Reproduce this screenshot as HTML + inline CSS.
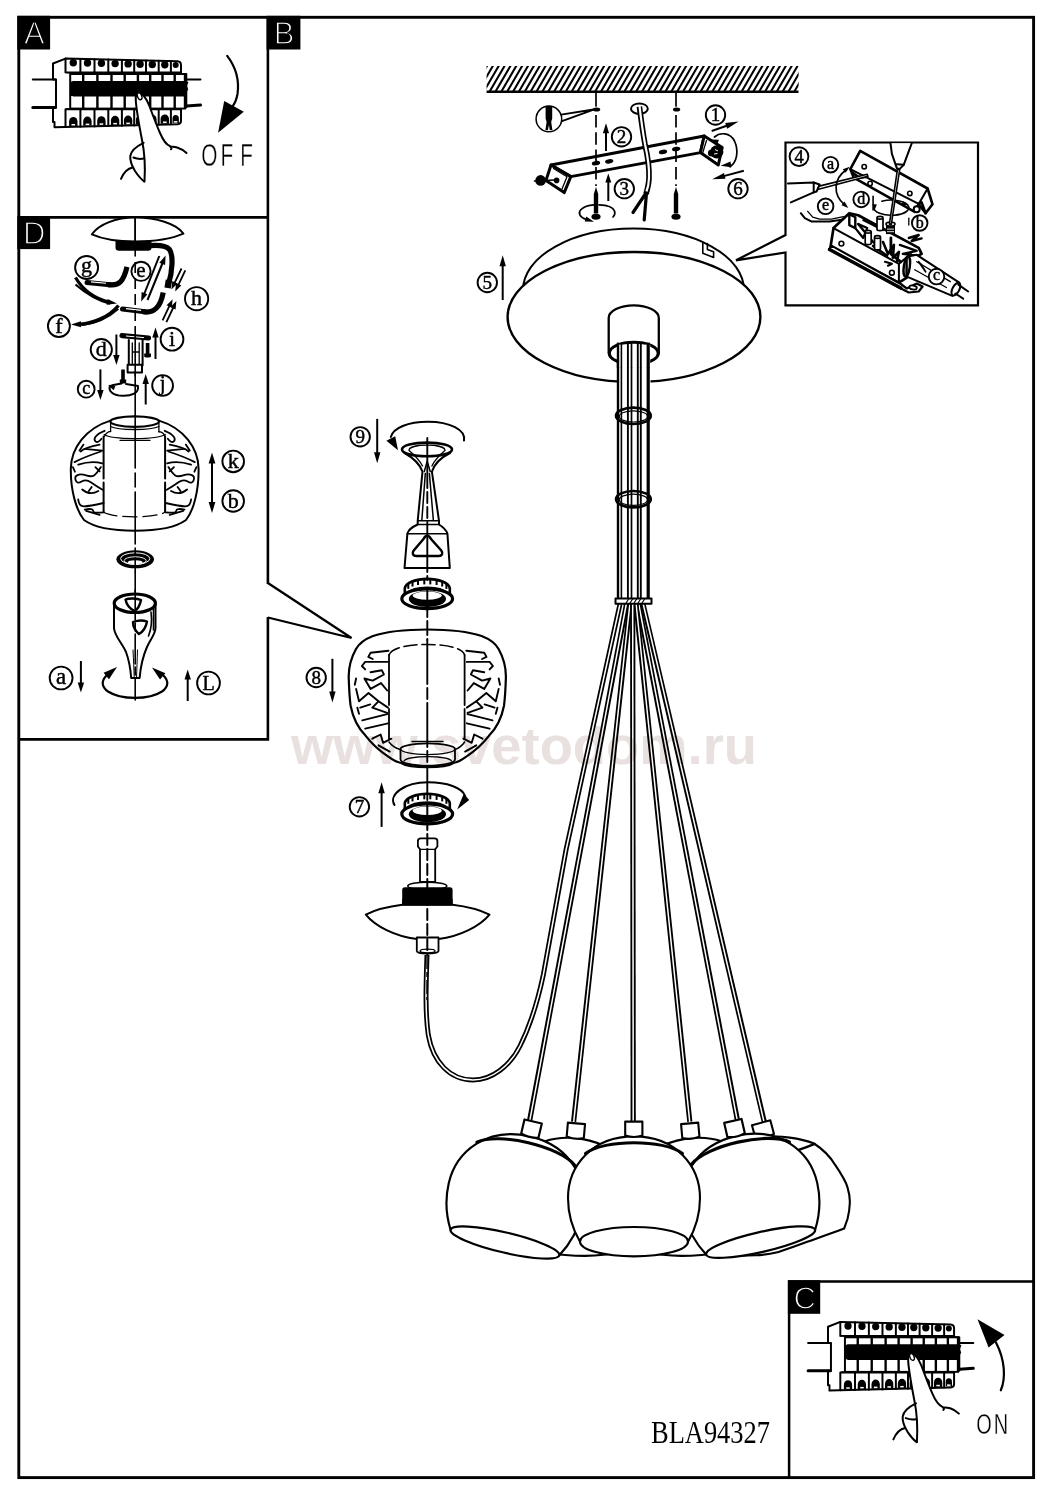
<!DOCTYPE html>
<html lang="ru"><head><meta charset="utf-8"><title>BLA94327</title>
<style>
html,body{margin:0;padding:0;background:#fff}
svg{display:block}

.s{fill:none;stroke:#000;stroke-width:2;stroke-linecap:round;stroke-linejoin:round}
.t{fill:none;stroke:#000;stroke-width:1.3;stroke-linecap:round;stroke-linejoin:round}
.w{fill:#fff;stroke:#000;stroke-width:2;stroke-linecap:round;stroke-linejoin:round}
.wt{fill:#fff;stroke:#000;stroke-width:1.3;stroke-linecap:round;stroke-linejoin:round}
.k{fill:#000;stroke:none}
.c{fill:none;stroke:#000;stroke-width:1.5}
.cw{fill:#fff;stroke:#000;stroke-width:1.5}
.l{font-family:"Liberation Serif",serif;text-anchor:middle;fill:#000}
.dash{fill:none;stroke:#000;stroke-width:1.6;stroke-dasharray:9 4}
</style></head><body>
<svg font-family="Liberation Serif, serif" width="1060" height="1500" viewBox="0 0 1060 1500">
<rect x="0" y="0" width="1060" height="1500" fill="#fff"/>
<!-- 01_frame.svg -->
<g fill="none" stroke="#000" stroke-linejoin="miter">
<rect x="18.8" y="17.3" width="1014.8" height="1460.3" stroke-width="2.9"/>
<path d="M18.7,217.4H267.9M267.9,17.2V584M267.9,617V739.4H18.7" stroke-width="2.6"/>
<path d="M1033.6,1281.5H789.1V1477.6" stroke-width="2.5"/>
<path d="M267.9,583L351.5,638L267.9,617.5" stroke-width="2.3"/>
<path d="M785.5,235V142.5H978V305.4H785.5V252.5L736,260.3Z" stroke-width="2.2"/>
</g>
<rect x="17.3" y="15.8" width="32.8" height="33.7" class="k"/>
<rect x="266.6" y="15.8" width="33.8" height="33.7" class="k"/>
<rect x="17.3" y="216.1" width="32.8" height="33" class="k"/>
<rect x="787.9" y="1280.2" width="32.3" height="33.6" class="k"/>
<g style="font-family:'Liberation Sans',sans-serif" font-size="31" fill="#fff" stroke="#000" stroke-width="1.3" text-anchor="middle">
<text x="34.3" y="43.8">A</text>
<text x="284" y="43.8">B</text>
<text x="34.3" y="244.2">D</text>
<text x="804.6" y="1309">C</text>
</g>
<!-- 10_breaker.svg -->
<defs><g id="brk">
<path class="w" d="M53,63.5L65.5,58.6L177.5,61.2Q181,61.4 181,65V74H186.3V107.5H181V121Q181,124 177.5,124.2L54.5,127.3V122H53V107.5H56V79.6H53Z"/>
<path class="s" d="M32.8,79.6H55.5M186.5,79.6H200.5"/>
<path d="M32.8,107.5H55.5M186.5,106L200.5,105" fill="none" stroke="#000" stroke-width="3" stroke-linecap="round"/>
<path class="s" d="M65.5,58.6V72.6H181"/>
<path class="s" d="M80.4,59.0V72.6"/>
<path class="s" d="M94.5,59.3V72.6"/>
<path class="s" d="M108.3,59.6V72.6"/>
<path class="s" d="M121.9,59.9V72.6"/>
<path class="s" d="M134.2,60.2V72.6"/>
<path class="s" d="M146.0,60.5V72.6"/>
<path class="s" d="M158.7,60.8V72.6"/>
<path class="s" d="M170.9,61.1V72.6"/>
<circle class="k" cx="73.3" cy="62.7" r="3.7"/>
<circle class="k" cx="87.5" cy="63.0" r="3.7"/>
<circle class="k" cx="101.4" cy="63.3" r="3.7"/>
<circle class="k" cx="115.1" cy="63.6" r="3.7"/>
<circle class="k" cx="128.1" cy="63.9" r="3.7"/>
<circle class="k" cx="140.1" cy="64.2" r="3.7"/>
<circle class="k" cx="152.3" cy="64.5" r="3.7"/>
<circle class="k" cx="164.8" cy="64.8" r="3.7"/>
<circle class="k" cx="175.7" cy="65.1" r="3.0"/>
<rect x="66.5" y="73" width="119.5" height="36.5" class="k"/>
<rect x="71.2" y="75" width="10.8" height="8" fill="#fff"/>
<rect x="71.2" y="96" width="10.8" height="11.6" fill="#fff"/>
<rect x="84.4" y="75" width="11.8" height="8" fill="#fff"/>
<rect x="84.4" y="96" width="11.8" height="11.6" fill="#fff"/>
<rect x="98.6" y="75" width="11.7" height="8" fill="#fff"/>
<rect x="98.6" y="96" width="11.7" height="11.6" fill="#fff"/>
<rect x="112.7" y="75" width="10.8" height="8" fill="#fff"/>
<rect x="112.7" y="96" width="10.8" height="11.6" fill="#fff"/>
<rect x="125.9" y="75" width="10.8" height="8" fill="#fff"/>
<rect x="125.9" y="96" width="10.8" height="11.6" fill="#fff"/>
<rect x="139.1" y="75" width="9.9" height="8" fill="#fff"/>
<rect x="139.1" y="96" width="9.9" height="11.6" fill="#fff"/>
<rect x="151.4" y="75" width="9.9" height="8" fill="#fff"/>
<rect x="151.4" y="96" width="9.9" height="11.6" fill="#fff"/>
<rect x="163.7" y="75" width="9.8" height="8" fill="#fff"/>
<rect x="163.7" y="96" width="9.8" height="11.6" fill="#fff"/>
<rect x="175.9" y="75" width="7.9" height="8" fill="#fff"/>
<rect x="175.9" y="96" width="7.9" height="11.6" fill="#fff"/>
<rect x="65" y="73.6" width="4.2" height="34.4" fill="#fff"/>
<path class="k" d="M70.5,82L73,81h113l2.5,1.2l-1.8,3.5l1.5,3.5l-2,3.8l0.8,3.6H73l-2.8,-3.6l1.8,-3.8l-2,-3.5z"/>
<path class="s" d="M65.5,109.3H181M65.5,109.3V127"/>
<path class="s" d="M80.4,109.3V126.8"/>
<path class="s" d="M94.5,109.3V126.5"/>
<path class="s" d="M108.3,109.3V126.1"/>
<path class="s" d="M121.9,109.3V125.8"/>
<path class="s" d="M134.2,109.3V125.4"/>
<path class="s" d="M146.0,109.3V125.0"/>
<path class="s" d="M158.7,109.3V124.7"/>
<path class="s" d="M170.9,109.3V124.3"/>
<path class="k" d="M69.1,126.2v-4.6a4.2,4.7 0 0 1 8.4,0v4.6z"/>
<rect x="71.5" y="124.0" width="3.6" height="1.5" fill="#fff"/>
<path class="k" d="M83.2,125.8v-4.6a4.2,4.7 0 0 1 8.4,0v4.6z"/>
<rect x="85.7" y="123.6" width="3.6" height="1.5" fill="#fff"/>
<path class="k" d="M97.2,125.5v-4.6a4.2,4.7 0 0 1 8.4,0v4.6z"/>
<rect x="99.6" y="123.3" width="3.6" height="1.5" fill="#fff"/>
<path class="k" d="M110.9,125.1v-4.6a4.2,4.7 0 0 1 8.4,0v4.6z"/>
<rect x="113.3" y="122.9" width="3.6" height="1.5" fill="#fff"/>
<path class="k" d="M123.9,124.8v-4.6a4.2,4.7 0 0 1 8.4,0v4.6z"/>
<rect x="126.3" y="122.6" width="3.6" height="1.5" fill="#fff"/>
<path class="k" d="M135.9,124.4v-4.6a4.2,4.7 0 0 1 8.4,0v4.6z"/>
<rect x="138.3" y="122.2" width="3.6" height="1.5" fill="#fff"/>
<path class="k" d="M148.2,124.0v-4.6a4.2,4.7 0 0 1 8.4,0v4.6z"/>
<rect x="150.5" y="121.8" width="3.6" height="1.5" fill="#fff"/>
<path class="k" d="M160.6,123.7v-4.6a4.2,4.7 0 0 1 8.4,0v4.6z"/>
<rect x="163.0" y="121.5" width="3.6" height="1.5" fill="#fff"/>
<path class="k" d="M172.5,123.3v-4.6a3.2,3.7 0 0 1 6.4,0v4.6z"/>
<rect x="173.8" y="121.1" width="3.6" height="1.5" fill="#fff"/>
</g><g id="hnd">
<path class="w" d="M144.5,181.5C145.5,165 144.5,152 142,140C139.5,127 136.5,110 135.8,101C135.3,94.5 137,92.3 139.5,92.8C143,93.8 146,98 149,105C152,113 156.5,125 160,133C163,140 166,144.5 170,146.2C171.5,146.8 172,148.5 171,149.3C172,147 176,146.8 179,147.6C182.5,148.5 185,150.3 186.5,152.8L186,152L179,147.6L170,146.2L144.5,146Z" style="stroke:none"/>
<path class="w" d="M143.6,142.8C137,146 131,151 130.3,156C129.8,161 132,166 135,171C138,175.5 141.5,179.5 144.2,181.5"/>
<path class="s" d="M144.5,181.5C145.5,165 144.5,152 142,140C139.5,127 136.5,110 135.8,101C135.3,94.5 137,92.3 139.5,92.8C143,93.8 146,98 149,105C152,113 156.5,125 160,133C163,140 166,144.5 170,146.2C171.5,146.8 172,148.5 171,149.3M170.5,147C174,146.3 181,147.5 186.5,153"/>
<path class="s" d="M133.4,157.5C137,159 140.5,159.2 143.8,158.6M132.6,167.5C127.5,168.5 123.5,173 121,178.8"/>
<ellipse cx="139.6" cy="96.3" rx="2.1" ry="3.6" transform="rotate(-22 139.6 96.3)" class="w" style="stroke-width:1.4"/>
</g></defs>
<use href="#brk"/>
<use href="#hnd"/>
<use href="#brk" transform="translate(775,1263.3) translate(53,0) scale(0.985,1) translate(-53,0)"/>
<use href="#hnd" transform="translate(772.4,1260.6)"/>
<path d="M227.2,55.8C235,66 239.5,80 237.5,94C236.5,100 234.5,104 232,107" fill="none" stroke="#000" stroke-width="2.2" stroke-linecap="round"/>
<path class="k" d="M224.2,101.1L243.8,111.7L218.1,132.8Z"/>
<path d="M1000.8,1390.3C1006,1378 1005,1360 996,1342.5" fill="none" stroke="#000" stroke-width="2.2" stroke-linecap="round"/>
<path class="k" d="M977.5,1319.2L1004.5,1335L988.6,1347.4Z"/>
<g style="font-family:'Liberation Sans',sans-serif" fill="#000" stroke="#fff" stroke-width="0.4">
<text transform="translate(201.2,166) scale(0.68,1)" font-size="30.6" x="0 28.5 57.3">OFF</text>
<text transform="translate(976.2,1433.8) scale(0.68,1)" font-size="29.4" x="0 26">ON</text>
</g>
<!-- 20_boxD.svg -->
<path class="w" d="M91.9,234.3C99,224 116,217.6 135.3,217.6C156,217.6 176,223.5 183.4,233.6C172,238.6 155,241.4 135.3,241.4C118,241.4 103,239.3 91.9,234.3Z"/>
<path d="M135.2,218V242" class="t" style="stroke-width:1.6"/>
<path class="k" d="M115.5,241H151.5V247.5Q151.5,250.8 148,250.8H119Q115.5,250.8 115.5,247.5Z"/>
<path d="M150,245.6C158,245 166,245.5 169.5,249.5C173.5,255 172.5,272 168.3,285" fill="none" stroke="#000" stroke-width="5.2" stroke-linecap="butt"/>
<path d="M168.9,280L167.6,288" fill="none" stroke="#000" stroke-width="6.4"/>
<path d="M163.2,292.5C162,299 160,304.5 156.5,308C153,311.5 148,312.6 143,311.8" fill="none" stroke="#000" stroke-width="5.2"/>
<path d="M145,311.8L122.5,309" fill="none" stroke="#000" stroke-width="5" stroke-linecap="round"/>
<path d="M141,310.4L126,308.6" fill="none" stroke="#fff" stroke-width="1.1"/>
<path d="M127,266.8C125.5,273 123.5,278.5 120.5,281.8C117.5,285 113,285.3 108,284.6" fill="none" stroke="#000" stroke-width="5.2"/>
<path d="M110,284.7L87,282.5" fill="none" stroke="#000" stroke-width="5" stroke-linecap="round"/>
<path d="M106,283.3L91,281.9" fill="none" stroke="#fff" stroke-width="1.1"/>
<path d="M147.5,300.0L163.0,262.0" fill="none" stroke="#000" stroke-width="2.0"/><path class="k" d="M165.6,255.5L165.1,265.0L159.3,262.7Z"/>
<path d="M159.3,256.0L143.8,295.0" fill="none" stroke="#000" stroke-width="2.0"/><path class="k" d="M141.2,301.5L141.6,292.0L147.4,294.3Z"/>
<path d="M185.3,270.4L177.8,286.1" fill="none" stroke="#000" stroke-width="1.8"/><path class="k" d="M175.2,291.5L176.1,283.0L181.3,285.5Z"/>
<path d="M181.5,268.5L174.0,284.2" fill="none" stroke="#000" stroke-width="1.8"/><path class="k" d="M171.4,289.6L172.3,281.1L177.5,283.6Z"/>
<path d="M162.6,320.4L170.0,304.7" fill="none" stroke="#000" stroke-width="1.8"/><path class="k" d="M172.6,299.3L171.8,307.8L166.6,305.3Z"/>
<path d="M166.4,322.2L173.8,306.5" fill="none" stroke="#000" stroke-width="1.8"/><path class="k" d="M176.4,301.1L175.6,309.6L170.4,307.1Z"/>
<path d="M75.5,277.5C84,292 98,299.5 110,302.3" fill="none" stroke="#000" stroke-width="3.2"/>
<path d="M75.5,284.5C87,294.5 99,301 110,303.8" fill="none" stroke="#000" stroke-width="2.2"/>
<path class="k" d="M117.0,303.6L106.6,304.8L107.7,298.9Z"/>
<path d="M118.5,305.5C109,317 93,323.5 80,324.3" fill="none" stroke="#000" stroke-width="3.4"/>
<path d="M118.5,309C108,318.5 95,324 82,325.3" fill="none" stroke="#000" stroke-width="1.6"/>
<path class="k" d="M71.0,324.6L80.9,321.3L81.1,327.2Z"/>
<circle cx="86.6" cy="267.5" r="11.5" fill="#fff" stroke="#000" stroke-width="1.9"/><text class="l" stroke="#000" stroke-width="0.45" x="86.6" y="271.5" font-size="22.0">g</text>
<circle cx="141.0" cy="271.3" r="9.6" fill="#fff" stroke="#000" stroke-width="1.9"/><text class="l" stroke="#000" stroke-width="0.45" x="141.0" y="276.5" font-size="21.0">e</text>
<circle cx="196.6" cy="298.7" r="11.6" fill="#fff" stroke="#000" stroke-width="1.9"/><text class="l" stroke="#000" stroke-width="0.45" x="196.6" y="305.2" font-size="22.0">h</text>
<circle cx="58.9" cy="326.0" r="11.0" fill="#fff" stroke="#000" stroke-width="1.9"/><text class="l" stroke="#000" stroke-width="0.45" x="58.9" y="332.8" font-size="22.0">f</text>
<circle cx="172.0" cy="339.2" r="11.4" fill="#fff" stroke="#000" stroke-width="1.9"/><text class="l" stroke="#000" stroke-width="0.45" x="172.0" y="346.0" font-size="22.0">i</text>
<circle cx="101.3" cy="349.6" r="10.6" fill="#fff" stroke="#000" stroke-width="1.9"/><text class="l" stroke="#000" stroke-width="0.45" x="101.3" y="355.9" font-size="22.0">d</text>
<circle cx="86.2" cy="389.2" r="8.4" fill="#fff" stroke="#000" stroke-width="1.9"/><text class="l" stroke="#000" stroke-width="0.45" x="86.2" y="393.5" font-size="18.0">c</text>
<circle cx="162.6" cy="385.5" r="10.4" fill="#fff" stroke="#000" stroke-width="1.9"/><text class="l" stroke="#000" stroke-width="0.45" x="162.6" y="389.7" font-size="21.0">j</text>
<path d="M122,335.6L148.5,338" fill="none" stroke="#000" stroke-width="5.2" stroke-linecap="round"/>
<path d="M126,336L144,337.6" fill="none" stroke="#fff" stroke-width="1"/>
<path class="w" d="M128.8,340V365.5H142.6V340"/>
<path class="t" d="M132.3,343V364M139.2,343V364M132.3,352H139.2"/>
<rect class="w" x="127.6" y="364.8" width="14.4" height="7.6"/>
<path d="M135.2,338V376" class="t" style="stroke-width:1.6"/>
<path class="k" d="M145.8,343h3.6v10.5h1.6v3.2q-3.4,1.8 -6.8,0v-3.2h1.6z"/>
<path class="k" d="M121.2,369.5h3.6v10h1.4v3.2q-3.2,1.8 -6.4,0v-3.2h1.4z"/>
<path d="M116.4,334.5L116.4,357.0" fill="none" stroke="#000" stroke-width="2.0"/><path class="k" d="M116.4,365.0L113.2,355.0L119.6,355.0Z"/>
<path d="M155.5,359.0L155.5,335.5" fill="none" stroke="#000" stroke-width="2.0"/><path class="k" d="M155.5,327.5L158.7,337.5L152.3,337.5Z"/>
<path d="M100.4,369.4L100.4,392.0" fill="none" stroke="#000" stroke-width="2.0"/><path class="k" d="M100.4,400.0L97.2,390.0L103.6,390.0Z"/>
<path d="M145.7,404.5L145.7,382.0" fill="none" stroke="#000" stroke-width="2.0"/><path class="k" d="M145.7,374.0L148.9,384.0L142.5,384.0Z"/>
<path class="s" d="M110,385.8C108,391 113,395.6 123,395.8C132,396 138.5,392.5 138,387.3M112,385.2L121.5,383.5M126,384L138,386"/>
<path class="k" d="M108.0,385.6L115.4,385.7L113.8,390.2Z"/>
<path class="w" d="M110.5,420.6C86,428 71,448 70.8,469C70.6,490 76,510 84,520C95,528 115,530.7 135,530.7C155,530.7 175,528 186,520C194,510 198.8,490 198.6,469C198.4,448 183.5,428 159,420.6"/>
<ellipse class="w" cx="134.7" cy="421.6" rx="24.3" ry="5.2" style="stroke-width:2.2"/>
<path class="t" d="M110.6,423V431.5M158.9,423V432"/>
<path class="t" d="M110.6,426.5C118,430.5 151,430.5 158.9,426.5"/>
<path class="t" d="M104.5,436.5C106,432.5 108.5,431.5 110.6,431.3M158.9,431.6C162,432 164.3,433.5 165,436.5"/>
<path class="t" d="M104.2,434.5C112,439.8 156,440 165.2,434.5"/>
<path class="s" d="M103.6,436.6V512M165.1,436.6V512" style="stroke-dasharray:42 4"/>
<path class="t" d="M103.6,512C112,518.5 157,518.5 165.1,512" style="stroke-dasharray:14 6"/>
<path class="t" d="M120,440.3H150"/>
<path class="t" d="M104.6,430.8Q98.0,433.4 95.7,436.5Q93.4,439.6 95.7,441.5Q98.0,443.3 101.5,438.7" style="stroke-width:1.8"/>
<path class="t" d="M104.6,430.8Q98.0,433.4 95.7,436.5Q93.4,439.6 95.7,441.5Q98.0,443.3 101.5,438.7" transform="translate(269.3,0) scale(-1,1)" style="stroke-width:1.8"/>
<path class="t" d="M99.6,444.6Q84.8,447.5 80.6,451.5" style="stroke-width:1.8"/>
<path class="t" d="M99.6,444.6Q84.8,447.5 80.6,451.5" transform="translate(269.3,0) scale(-1,1)" style="stroke-width:1.8"/>
<path class="t" d="M84.8,448.9L102.2,450.7" style="stroke-width:1.8"/>
<path class="t" d="M84.8,448.9L102.2,450.7" transform="translate(269.3,0) scale(-1,1)" style="stroke-width:1.8"/>
<path class="t" d="M74.5,462.1Q84.8,456.8 100.9,451.5" style="stroke-width:1.8"/>
<path class="t" d="M74.5,462.1Q84.8,456.8 100.9,451.5" transform="translate(269.3,0) scale(-1,1)" style="stroke-width:1.8"/>
<path class="t" d="M78.2,464.7Q91.4,460.5 102.2,463.4" style="stroke-width:1.8"/>
<path class="t" d="M78.2,464.7Q91.4,460.5 102.2,463.4" transform="translate(269.3,0) scale(-1,1)" style="stroke-width:1.8"/>
<path class="t" d="M100.9,467.1Q96.7,473.7 94.1,475.4Q91.4,477.1 86.1,475.4Q80.8,473.7 77.5,475.1Q74.2,476.6 75.7,480.4Q77.2,484.2 81.6,481.6Q86.1,479.0 90.8,482.3Q95.4,485.6 102.5,489.8" style="stroke-width:1.8"/>
<path class="t" d="M100.9,467.1Q96.7,473.7 94.1,475.4Q91.4,477.1 86.1,475.4Q80.8,473.7 77.5,475.1Q74.2,476.6 75.7,480.4Q77.2,484.2 81.6,481.6Q86.1,479.0 90.8,482.3Q95.4,485.6 102.5,489.8" transform="translate(269.3,0) scale(-1,1)" style="stroke-width:1.8"/>
<path class="t" d="M95.4,467.1L99.6,471.3" style="stroke-width:1.8"/>
<path class="t" d="M95.4,467.1L99.6,471.3" transform="translate(269.3,0) scale(-1,1)" style="stroke-width:1.8"/>
<path class="t" d="M82.2,489.5Q90.1,496.1 98.3,490.9" style="stroke-width:1.8"/>
<path class="t" d="M82.2,489.5Q90.1,496.1 98.3,490.9" transform="translate(269.3,0) scale(-1,1)" style="stroke-width:1.8"/>
<path class="t" d="M88.8,491.1L91.7,486.9" style="stroke-width:1.8"/>
<path class="t" d="M88.8,491.1L91.7,486.9" transform="translate(269.3,0) scale(-1,1)" style="stroke-width:1.8"/>
<path class="t" d="M78.2,499.4Q78.9,505.4 82.5,506.2Q86.1,507.0 103.6,503.0" style="stroke-width:1.8"/>
<path class="t" d="M78.2,499.4Q78.9,505.4 82.5,506.2Q86.1,507.0 103.6,503.0" transform="translate(269.3,0) scale(-1,1)" style="stroke-width:1.8"/>
<path class="t" d="M84.8,509.6Q92.7,508.0 93.1,510.8Q93.5,513.6 103.6,512.3" style="stroke-width:1.8"/>
<path class="t" d="M84.8,509.6Q92.7,508.0 93.1,510.8Q93.5,513.6 103.6,512.3" transform="translate(269.3,0) scale(-1,1)" style="stroke-width:1.8"/>
<path class="t" d="M86.1,510.9L99.6,514.9" style="stroke-width:1.8"/>
<path class="t" d="M86.1,510.9L99.6,514.9" transform="translate(269.3,0) scale(-1,1)" style="stroke-width:1.8"/>
<path class="t" d="M83.5,444.6L79.5,450.6" style="stroke-width:1.8"/>
<path class="t" d="M83.5,444.6L79.5,450.6" transform="translate(269.3,0) scale(-1,1)" style="stroke-width:1.8"/>
<path class="t" d="M72.9,467.1L74.9,471.7" style="stroke-width:1.8"/>
<path class="t" d="M72.9,467.1L74.9,471.7" transform="translate(269.3,0) scale(-1,1)" style="stroke-width:1.8"/>
<path d="M212.0,480.0L212.0,461.5" fill="none" stroke="#000" stroke-width="2.0"/><path class="k" d="M212.0,452.5L215.4,463.5L208.6,463.5Z"/>
<path d="M212.0,480.0L212.0,504.0" fill="none" stroke="#000" stroke-width="2.0"/><path class="k" d="M212.0,513.0L208.6,502.0L215.4,502.0Z"/>
<circle cx="233.2" cy="461.4" r="10.8" fill="#fff" stroke="#000" stroke-width="1.9"/><text class="l" stroke="#000" stroke-width="0.45" x="233.2" y="468.2" font-size="22.0">k</text>
<circle cx="233.2" cy="501.0" r="10.8" fill="#fff" stroke="#000" stroke-width="1.9"/><text class="l" stroke="#000" stroke-width="0.45" x="233.2" y="507.8" font-size="22.0">b</text>
<ellipse cx="135.2" cy="559.3" rx="18.8" ry="9" class="k"/>
<ellipse cx="135.2" cy="558.6" rx="14.6" ry="5.8" fill="none" stroke="#fff" stroke-width="1"/>
<ellipse cx="135.2" cy="560.6" rx="11" ry="3.8" fill="none" stroke="#fff" stroke-width="0.9"/>
<ellipse cx="135.2" cy="562.2" rx="7.5" ry="2" fill="#fff"/>
<path d="M135.2,548V572" class="t" style="stroke-width:1.6;stroke-dasharray:7 3"/>
<path class="w" d="M114,603V628C114.5,636 122,643 126,652C129,660 130.5,669 131.2,678L139.6,678C140.5,668 143,656 147,647C150,640 155.5,634 155.5,628V603"/>
<ellipse cx="134.8" cy="603.2" rx="20.6" ry="9.2" fill="#fff" stroke="#000" stroke-width="3.2"/>
<path class="s" d="M125.5,599.5C129,598 137,598 141,600C140,605 137.5,609.5 134.5,611C130.5,609 126.5,604.5 125.5,599.5Z" style="stroke-width:2.4"/>
<path class="s" d="M133,622C137,620.5 143,620 147,621.5C146,627 142.5,632 139,634C135.5,631 133,626 133,622Z" style="stroke-width:2.4"/>
<path class="s" d="M153.5,608V630M151,612C152,620 151,630 148.5,636" style="stroke-width:1.6"/>
<path class="t" d="M133,650C133.5,660 134,670 134.2,678M137.5,650C137.2,660 136.8,670 136.5,678" style="stroke-width:1"/>
<path d="M135.2,590V700" class="t" style="stroke-width:1.6;stroke-dasharray:30 3 8 3"/>
<path class="s" d="M106.5,675.5C101,681 101.5,687 108,691.5C121,700 149,700 162,691.5C168.5,687 169,681 163.5,675.5" style="stroke-width:2.2"/>
<path class="k" d="M117.0,667.0L109.0,679.2L103.6,672.8Z"/>
<path class="k" d="M152.0,667.4L165.4,673.2L160.0,679.6Z"/>
<circle cx="61.1" cy="678.0" r="11.4" fill="#fff" stroke="#000" stroke-width="1.9"/><text class="l" stroke="#000" stroke-width="0.45" x="61.1" y="683.8" font-size="23.0">a</text>
<path d="M80.9,661.0L80.9,684.5" fill="none" stroke="#000" stroke-width="2.0"/><path class="k" d="M80.9,692.5L77.7,682.5L84.1,682.5Z"/>
<circle cx="208.5" cy="683.0" r="11.4" fill="#fff" stroke="#000" stroke-width="1.9"/><text class="l" stroke="#000" stroke-width="0.45" x="208.5" y="689.6" font-size="20.0">L</text>
<path d="M187.7,701.0L187.7,677.6" fill="none" stroke="#000" stroke-width="2.0"/><path class="k" d="M187.7,669.6L190.9,679.6L184.5,679.6Z"/>
<path d="M135.2,218V256" class="t" style="stroke-width:1.6"/>
<path d="M135.2,262V330" class="dash" style="stroke-dasharray:11 5"/>
<path d="M135.2,330V338M135.2,372V416" class="t" style="stroke-width:1.6"/>
<path d="M135.2,416V548" class="t" style="stroke-width:1.6;stroke-dasharray:52 5 14 5"/>
<path d="M135.2,572V592" class="t" style="stroke-width:1.6"/>
<!-- 30_ceiling.svg -->
<clipPath id="hc"><rect x="486.6" y="66" width="312" height="26"/></clipPath>
<g clip-path="url(#hc)" stroke="#000" stroke-width="2.05" fill="none">
<path d="M471.22,93L487.52,65"/>
<path d="M477.08,93L493.38,65"/>
<path d="M482.94,93L499.24,65"/>
<path d="M488.80,93L505.10,65"/>
<path d="M494.66,93L510.96,65"/>
<path d="M500.52,93L516.82,65"/>
<path d="M506.38,93L522.68,65"/>
<path d="M512.24,93L528.54,65"/>
<path d="M518.10,93L534.40,65"/>
<path d="M523.96,93L540.26,65"/>
<path d="M529.82,93L546.12,65"/>
<path d="M535.68,93L551.98,65"/>
<path d="M541.54,93L557.84,65"/>
<path d="M547.40,93L563.70,65"/>
<path d="M553.26,93L569.56,65"/>
<path d="M559.12,93L575.42,65"/>
<path d="M564.98,93L581.28,65"/>
<path d="M570.84,93L587.14,65"/>
<path d="M576.70,93L593.00,65"/>
<path d="M582.56,93L598.86,65"/>
<path d="M588.42,93L604.72,65"/>
<path d="M594.28,93L610.58,65"/>
<path d="M600.14,93L616.44,65"/>
<path d="M606.00,93L622.30,65"/>
<path d="M611.86,93L628.16,65"/>
<path d="M617.72,93L634.02,65"/>
<path d="M623.58,93L639.88,65"/>
<path d="M629.44,93L645.74,65"/>
<path d="M635.30,93L651.60,65"/>
<path d="M641.16,93L657.46,65"/>
<path d="M647.02,93L663.32,65"/>
<path d="M652.88,93L669.18,65"/>
<path d="M658.74,93L675.04,65"/>
<path d="M664.60,93L680.90,65"/>
<path d="M670.46,93L686.76,65"/>
<path d="M676.32,93L692.62,65"/>
<path d="M682.18,93L698.48,65"/>
<path d="M688.04,93L704.34,65"/>
<path d="M693.90,93L710.20,65"/>
<path d="M699.76,93L716.06,65"/>
<path d="M705.62,93L721.92,65"/>
<path d="M711.48,93L727.78,65"/>
<path d="M717.34,93L733.64,65"/>
<path d="M723.20,93L739.50,65"/>
<path d="M729.06,93L745.36,65"/>
<path d="M734.92,93L751.22,65"/>
<path d="M740.78,93L757.08,65"/>
<path d="M746.64,93L762.94,65"/>
<path d="M752.50,93L768.80,65"/>
<path d="M758.36,93L774.66,65"/>
<path d="M764.22,93L780.52,65"/>
<path d="M770.08,93L786.38,65"/>
<path d="M775.94,93L792.24,65"/>
<path d="M781.80,93L798.10,65"/>
<path d="M787.66,93L803.96,65"/>
<path d="M793.52,93L809.82,65"/>
<path d="M799.38,93L815.68,65"/>
</g>
<path d="M486.6,91.8H798.5" stroke="#000" stroke-width="2.4" fill="none"/>
<g fill="#fff" stroke="#000" stroke-width="3" stroke-linejoin="round">
<path d="M551,165L704.2,136L700.4,152.6L570.8,176.6Z"/>
<path d="M551,165L570.8,176.6L564.2,192.6L546,180.4Z"/>
<path d="M704.2,136L722.2,147.5L718.3,165L700.4,152.6Z"/>
</g>
<path class="t" d="M553.5,168.5L567,176.8L562,189"/>
<path class="t" d="M706.5,140.5L702.8,152.5"/>
<ellipse class="k" cx="596.0" cy="163.2" rx="4.2" ry="2.2" transform="rotate(-10 596.0 163.2)"/>
<ellipse class="k" cx="609.2" cy="161.3" rx="4.2" ry="2.2" transform="rotate(-10 609.2 161.3)"/>
<ellipse class="k" cx="663.0" cy="151.9" rx="4.2" ry="2.2" transform="rotate(-10 663.0 151.9)"/>
<ellipse class="k" cx="676.2" cy="149.0" rx="4.2" ry="2.2" transform="rotate(-10 676.2 149.0)"/>
<path d="M534.5,181L554,180" class="s" style="stroke-width:1.6"/>
<circle class="k" cx="540.6" cy="180.4" r="5.3"/>
<circle class="k" cx="556.6" cy="180.4" r="2.8"/>
<circle class="k" cx="716.8" cy="151.8" r="6.6"/>
<circle class="k" cx="711.5" cy="153" r="3.6"/>
<path d="M715,149.5l3,1.5M714,154l3.5,-0.5" stroke="#fff" stroke-width="1" fill="none"/>
<path d="M596,92.5V106" class="t" style="stroke-width:1.7"/>
<ellipse class="k" cx="596.6" cy="109.4" rx="3.6" ry="2"/>
<path d="M596,115V186" class="t" style="stroke-width:1.7;stroke-dasharray:12.5 4.8;stroke-linecap:butt"/>
<path class="k" d="M596,187l2.2,7v19.5h-4.4v-19.5z"/>
<ellipse class="k" cx="596" cy="216.8" rx="4.6" ry="3"/>
<path d="M676,92.5V106" class="t" style="stroke-width:1.7"/>
<ellipse class="k" cx="676.6" cy="109.4" rx="3.6" ry="2"/>
<path d="M676,115V186" class="t" style="stroke-width:1.7;stroke-dasharray:12.5 4.8;stroke-linecap:butt"/>
<path class="k" d="M676,187l2.2,7v19.5h-4.4v-19.5z"/>
<ellipse class="k" cx="676" cy="216.8" rx="4.6" ry="3"/>
<path class="t" d="M561.2,114.6L595,109.2L562,121.2" style="stroke-width:1.9"/>
<circle cx="548.9" cy="118.9" r="12.8" class="cw"/>
<path class="k" d="M545.6,106.5q3.3,-1.6 6.6,0v12l-1,3.5l1.2,8h-2.6l-0.9,-5l-0.9,5h-2.6l1.2,-8l-1,-3.5z"/>
<path d="M606.0,151.0L606.0,131.3" fill="none" stroke="#000" stroke-width="2.0"/><path class="k" d="M606.0,123.3L609.1,133.3L602.9,133.3Z"/>
<circle cx="621.5" cy="136.8" r="9.7" fill="#fff" stroke="#000" stroke-width="1.9"/><text class="l" stroke="#000" stroke-width="0.45" x="621.5" y="143.0" font-size="19.0">2</text>
<path d="M608.3,201.0L608.3,180.5" fill="none" stroke="#000" stroke-width="2.0"/><path class="k" d="M608.3,173.5L611.3,182.5L605.3,182.5Z"/>
<circle cx="624.3" cy="188.7" r="9.7" fill="#fff" stroke="#000" stroke-width="1.9"/><text class="l" stroke="#000" stroke-width="0.45" x="624.3" y="194.9" font-size="19.0">3</text>
<ellipse cx="639.4" cy="108.7" rx="8.4" ry="5.2" class="w"/>
<path d="M639.4,106.6C641,119 643,133 645,144.3C647,153 649.5,166 649,178.3C648.8,184 647.5,189 646,194" fill="none" stroke="#000" stroke-width="5.6"/>
<path d="M639.4,105C641,119 643,133 645,144.3C647,153 649.5,166 649,178.3C648.8,184 647.5,189 646.3,192" fill="none" stroke="#fff" stroke-width="2.2"/>
<path d="M646,193L633,212.5M646.5,193L644.2,220" fill="none" stroke="#000" stroke-width="3.2" stroke-linecap="round"/>
<path class="s" d="M586.5,219.5C580,217.5 577.5,213 581,209.5C584,206.5 590,205 594,204.8M599,204.8C606,205 613,207 614.5,211C615.5,213.5 614.5,215.5 613,217" style="stroke-width:1.7"/>
<path class="k" d="M594.0,221.8L584.7,221.4L586.2,216.6Z"/>
<circle cx="715.5" cy="115.0" r="9.7" fill="#fff" stroke="#000" stroke-width="1.9"/><text class="l" stroke="#000" stroke-width="0.45" x="715.5" y="121.2" font-size="19.0">1</text>
<path d="M711.7,131.0L728.1,125.2" fill="none" stroke="#000" stroke-width="2.0"/><path class="k" d="M738.5,121.5L727.2,128.7L725.2,123.0Z"/>
<path class="s" d="M714.5,137C720,132 730,132.5 734.5,141C739,151 737,162 730,166.8" style="stroke-width:1.7"/>
<path class="k" d="M711.5,139.5L718.9,139.7L717.3,144.1Z"/>
<path class="k" d="M720.5,165.8L730.5,161.4L731.3,167.3Z"/>
<path d="M743.8,170.8L722.8,176.4" fill="none" stroke="#000" stroke-width="2.0"/><path class="k" d="M712.2,179.2L724.0,173.0L725.5,178.8Z"/>
<circle cx="738.0" cy="188.7" r="9.7" fill="#fff" stroke="#000" stroke-width="1.9"/><text class="l" stroke="#000" stroke-width="0.45" x="738.0" y="194.9" font-size="19.0">6</text>
<!-- 40_inset.svg -->
<circle cx="799.0" cy="156.6" r="9.4" fill="#fff" stroke="#000" stroke-width="1.9"/><text class="l" stroke="#000" stroke-width="0.45" x="799.0" y="162.6" font-size="18.5">4</text>
<path class="s" d="M800.8,213.2L804.8,218.2L811.7,221.6L829.5,221.6L845.4,219.2L851.3,220.2"/>
<path class="t" d="M807.7,211.3L812.7,217.2L819.6,219.2L831.5,219.2L843.4,216.6"/>
<path class="w" d="M833.5,228.1L849.3,213.2L858.2,215.2L918.7,247.9L921.6,253.9L906.8,261.8L906.8,277.6L898.9,282.6L830.5,246.9Z" style="stroke-width:2.7"/>
<path class="s" d="M833.5,228.1L898.9,263.8L898.9,282.6"/>
<path class="s" d="M898.9,263.8L910.7,253.9"/>
<path class="w" d="M829.1,248.9L831.9,245.9L900.8,284.0L906.8,288.5L916.7,283.6L922.6,286.5L918.7,291.5L908.8,292.5L898.9,287.5Z" style="stroke-width:2.2"/>
<path class="s" d="M829.5,249.5L900.8,287.9" style="stroke-width:3.4"/>
<ellipse cx="913.1" cy="287.5" rx="3.8" ry="2" class="w" transform="rotate(10 913.1 287.5)" style="stroke-width:1.8"/>
<circle cx="841.4" cy="243.6" r="2.4" class="w" style="stroke-width:1.6"/>
<circle cx="891.9" cy="272.7" r="2.4" class="w" style="stroke-width:1.6"/>
<path class="s" d="M849.3,214.2L849.3,225.1L855.3,228.1L855.3,217.2Z" style="stroke-width:2.4"/>
<path class="s" d="M855.3,228.1L863.2,238.0L867.2,228.1L858.2,224.1" style="stroke-width:2.2"/>
<path class="s" d="M883.0,242.0L888.0,253.9L893.9,244.9L892.9,257.8L898.9,251.9L896.9,261.8" style="stroke-width:2.6"/>
<path class="s" d="M899.8,244.9L916.7,250.9L902.8,253.9L918.7,255.8" style="stroke-width:2.2"/>
<path class="s" d="M908.8,238.0L918.7,235.0L911.7,241.0L921.6,238.4" style="stroke-width:2.4"/>
<path class="s" d="M885.0,261.8L891.9,263.8L888.0,265.7" style="stroke-width:2.2"/>
<path class="s" d="M858.2,224.1L873.1,242.0L879.0,245.9" style="stroke-width:2.4"/>
<path class="s" d="M863.2,220.2L883.0,230.1" style="stroke-width:2"/>
<path class="s" d="M890.9,238.0L890.9,253.9L900.8,261.8" style="stroke-width:2.8"/>
<path class="s" d="M873.1,245.9L887.0,255.8" style="stroke-width:2.6"/>
<path class="w" d="M877.0,217.8v11.5a3,1.4 0 0 0 6,0v-11.5a3,1.4 0 0 0 -6,0a3,1.4 0 0 0 6,0" style="stroke-width:1.7"/>
<path class="w" d="M865.2,231.7v11.5a3,1.4 0 0 0 6,0v-11.5a3,1.4 0 0 0 -6,0a3,1.4 0 0 0 6,0" style="stroke-width:1.7"/>
<path class="w" d="M874.5,237.0v11.5a3,1.4 0 0 0 6,0v-11.5a3,1.4 0 0 0 -6,0a3,1.4 0 0 0 6,0" style="stroke-width:1.7"/>
<path class="k" d="M886.0,224.1h9v10h-9z"/>
<ellipse cx="890.5" cy="224.1" rx="4.5" ry="2" class="w" style="stroke-width:1.6"/>
<path d="M887.0,229.1h7M887.0,231.7h7" stroke="#fff" stroke-width="0.9"/>
<path class="w" d="M906.8,256.8L916.7,254.8L959.3,282.6L952.3,295.9L906.8,276.6Z"/>
<path class="t" d="M916.7,261.8L950.4,281.6"/>
<path class="t" d="M914.7,269.7L946.4,287.5"/>
<path class="s" d="M918.7,261.8L925.6,271.7L920.6,263.8" style="stroke-width:1.8"/>
<ellipse cx="955.9" cy="289.1" rx="3.4" ry="7" class="w" transform="rotate(28 955.9 289.1)"/>
<path class="s" d="M958.3,284.6L968.2,291.5"/>
<path class="s" d="M955.3,293.5L963.2,298.6"/>
<ellipse cx="906.8" cy="266.7" rx="3" ry="10" class="s" transform="rotate(8 906.8 266.7)" style="stroke-width:2.4"/>
<path class="w" d="M860.2,150.8L927.6,188.5L932.5,204.3L925.6,213.2L918.7,203.9L914.7,211.9L853.7,177.6L850.3,169.1Z" style="stroke-width:2.6"/>
<path class="s" d="M850.3,169.1L918.7,203.9L927.6,188.5"/>
<circle cx="864.2" cy="166.7" r="2.2" class="w" style="stroke-width:1.6"/>
<circle cx="870.1" cy="183.5" r="2.2" class="w" style="stroke-width:1.6"/>
<circle cx="909.8" cy="193.4" r="2.2" class="w" style="stroke-width:1.6"/>
<circle cx="916.7" cy="209.3" r="3" class="w" style="stroke-width:2"/>
<path class="s" d="M918.7,203.9L921.6,202.4L925.6,213.2" style="stroke-width:2.6"/>
<path class="s" d="M852.3,172.6L859.2,177.6L867.2,176.6" style="stroke-width:2.6"/>
<path class="s" d="M787.9,183.5L813.7,182.5L819.6,184.5L816.6,191.5L813.7,192.4L790.9,202.4"/>
<path class="s" d="M813.7,182.5L813.7,192.4"/>
<path class="w" d="M819.2,186.1L867.2,174.2L867.8,176.2L817.6,189.5Z" style="stroke-width:1.6"/>
<path class="s" d="M846.4,169.7C833.5,178.6 832.5,194.4 844.4,204.7" style="stroke-width:1.7"/>
<path class="k" d="M849.7,166.7L845.6,172.8L842.8,169.2Z"/>
<path class="k" d="M848.3,207.9L841.5,205.2L844.5,201.6Z"/>
<path class="s" d="M873.9,207.3a17.5,7.6 0 1 0 8,-6" style="stroke-width:1.6"/>
<path class="k" d="M874.1,211.3L872.5,204.1L876.9,204.5Z"/>
<path class="k" d="M908.8,205.3L901.4,205.0L902.9,200.9Z"/>
<path class="s" d="M873.1,196.4L873.1,209.9" style="stroke-width:1.6"/>
<path class="w" d="M890.5,143.3L891.9,153.8L896.9,168.3L899.5,169.1L903.8,164.7L911.7,143.3"/>
<path class="s" d="M896.9,164.3L903.8,164.7"/>
<path class="w" d="M897.5,169.1L889.4,224.1L891.3,224.5L899.7,169.5Z" style="stroke-width:1.6"/>
<circle cx="830.5" cy="164.7" r="7.8" fill="#fff" stroke="#000" stroke-width="1.9"/><text class="l" stroke="#000" stroke-width="0.45" x="830.5" y="168.5" font-size="16.0">a</text>
<circle cx="825.6" cy="206.3" r="7.8" fill="#fff" stroke="#000" stroke-width="1.9"/><text class="l" stroke="#000" stroke-width="0.45" x="825.6" y="210.1" font-size="16.0">e</text>
<circle cx="861.2" cy="199.4" r="7.8" fill="none" stroke="#000" stroke-width="1.9"/><text class="l" stroke="#000" stroke-width="0.45" x="861.2" y="203.8" font-size="16.0">d</text>
<circle cx="919.7" cy="223.0" r="7.8" fill="none" stroke="#000" stroke-width="1.9"/><text class="l" stroke="#000" stroke-width="0.45" x="919.7" y="227.6" font-size="16.0">b</text>
<circle cx="936.5" cy="276.6" r="7.8" fill="#fff" stroke="#000" stroke-width="1.9"/><text class="l" stroke="#000" stroke-width="0.45" x="936.5" y="280.4" font-size="16.0">c</text>
<path class="t" d="M908.8,218.2L908.8,225.1"/>
<!-- 50_canopy.svg -->
<ellipse cx="633.5" cy="290" rx="110.5" ry="61.5" class="w"/>
<path class="s" d="M702.8,242.7V253.2L713.6,257.5V251.8L707.4,249.5V243.6" style="stroke-width:1.6"/>
<ellipse cx="634" cy="317" rx="126.4" ry="65" class="w" style="stroke-width:2.4"/>
<circle cx="487.3" cy="282.5" r="9.7" fill="#fff" stroke="#000" stroke-width="1.9"/><text class="l" stroke="#000" stroke-width="0.45" x="487.3" y="288.7" font-size="19.0">5</text>
<path d="M502.7,300.0L502.7,264.3" fill="none" stroke="#000" stroke-width="2.0"/><path class="k" d="M502.7,255.3L505.9,266.3L499.5,266.3Z"/>
<rect x="617" y="345" width="33.5" height="254" fill="#fff"/>
<path d="M618.0,344V599" stroke="#000" stroke-width="2.4" fill="none"/>
<path d="M621.4,344V599" stroke="#000" stroke-width="1.6" fill="none"/>
<path d="M627.9,344V599" stroke="#000" stroke-width="1.9" fill="none"/>
<path d="M631.5,344V599" stroke="#000" stroke-width="1.7" fill="none"/>
<path d="M637.8,344V599" stroke="#000" stroke-width="1.9" fill="none"/>
<path d="M640.8,344V599" stroke="#000" stroke-width="1.9" fill="none"/>
<path d="M648.2,344V599" stroke="#000" stroke-width="3.2" fill="none"/>
<path class="w" d="M608.7,352.8V318A25.05,12.7 0 0 1 658.8,318V352.8A25.05,11.4 0 0 1 608.7,352.8Z" style="stroke-width:2.3"/>
<ellipse cx="633.75" cy="353.2" rx="24.4" ry="11" fill="#fff" stroke="#000" stroke-width="3"/>
<rect x="617.2" y="344.6" width="33" height="23" fill="#fff"/>
<path d="M618.0,342.6V368" stroke="#000" stroke-width="2.4" fill="none"/>
<path d="M621.4,342.6V368" stroke="#000" stroke-width="1.6" fill="none"/>
<path d="M627.9,342.6V368" stroke="#000" stroke-width="1.9" fill="none"/>
<path d="M631.5,342.6V368" stroke="#000" stroke-width="1.7" fill="none"/>
<path d="M637.8,342.6V368" stroke="#000" stroke-width="1.9" fill="none"/>
<path d="M640.8,342.6V368" stroke="#000" stroke-width="1.9" fill="none"/>
<path d="M648.2,342.6V368" stroke="#000" stroke-width="3.2" fill="none"/>
<ellipse cx="633.4" cy="415.8" rx="17.4" ry="8.2" fill="none" stroke="#000" stroke-width="2.6"/>
<ellipse cx="633.4" cy="416.4" rx="14.2" ry="5.6" fill="none" stroke="#000" stroke-width="1.2"/>
<ellipse cx="633.4" cy="499.2" rx="17.4" ry="8.2" fill="none" stroke="#000" stroke-width="2.6"/>
<ellipse cx="633.4" cy="499.8" rx="14.2" ry="5.6" fill="none" stroke="#000" stroke-width="1.2"/>
<path d="M620,604L566,850L543.4,974.5C537,1005 528,1030 520,1046C510,1066 492,1080 473,1080C450,1080 433,1062 428.3,1035C425,1012 426,985 427,955" fill="none" stroke="#000" stroke-width="5"/>
<path d="M620,604L566,850L543.4,974.5C537,1005 528,1030 520,1046C510,1066 492,1080 473,1080C450,1080 433,1062 428.3,1035C425,1012 426,985 427,955" fill="none" stroke="#fff" stroke-width="1.5"/>
<path d="M427,955V1000" stroke="#000" stroke-width="1.4" fill="none" stroke-dasharray="14 3 5 3"/>
<path d="M626.5,604L529.4,1121.7" fill="none" stroke="#000" stroke-width="5.2"/>
<path d="M626.5,603L529.4,1122.7" fill="none" stroke="#fff" stroke-width="1.5"/>
<path d="M643.0,604L764.2,1121.7" fill="none" stroke="#000" stroke-width="5.2"/>
<path d="M643.0,603L764.2,1122.7" fill="none" stroke="#fff" stroke-width="1.5"/>
<path d="M630.0,604L573.6,1121.7" fill="none" stroke="#000" stroke-width="5.2"/>
<path d="M630.0,603L573.6,1122.7" fill="none" stroke="#fff" stroke-width="1.5"/>
<path d="M638.5,604L737.7,1121.7" fill="none" stroke="#000" stroke-width="5.2"/>
<path d="M638.5,603L737.7,1122.7" fill="none" stroke="#fff" stroke-width="1.5"/>
<path d="M636.0,604L689.8,1121.7" fill="none" stroke="#000" stroke-width="5.2"/>
<path d="M636.0,603L689.8,1122.7" fill="none" stroke="#fff" stroke-width="1.5"/>
<path d="M632.7,604L633.2,1121.7" fill="none" stroke="#000" stroke-width="5.2"/>
<path d="M632.7,603L633.2,1122.7" fill="none" stroke="#fff" stroke-width="1.5"/>
<rect x="615.5" y="598.4" width="36" height="5.4" class="w" style="stroke-width:2"/>
<path d="M626,603l3,-4.5M630,603l3,-4.5M634,603l3,-4.5M638,603l3,-4.5M642,603l3,-4.5" stroke="#000" stroke-width="1.2" fill="none"/>
<!-- 60_exploded.svg -->
<circle cx="360.2" cy="436.8" r="9.7" fill="#fff" stroke="#000" stroke-width="1.9"/><text class="l" stroke="#000" stroke-width="0.45" x="360.2" y="443.0" font-size="19.0">9</text>
<path d="M377.2,418.9L377.2,454.2" fill="none" stroke="#000" stroke-width="2.0"/><path class="k" d="M377.2,463.2L374.0,452.2L380.4,452.2Z"/>
<path class="s" d="M464,440.6C466,430 450,421.7 428,421.7C408,421.7 393,428 390.8,437"/>
<path class="k" d="M386.4,440.8L395.2,436.2L398,450.2Z"/>
<path class="w" d="M404.5,453C410,456 419,462 422.5,471.7L417.7,520.8V524.5C412,527 408.5,529.5 407.4,533.5L404.5,568H449.8L447.4,533.5C446,529.5 443,527 439,524.5V520.8L431.9,471.7C435,462 444,456 450,453"/>
<ellipse cx="427" cy="449.4" rx="25" ry="6.8" fill="#fff" stroke="#000" stroke-width="2.6"/>
<path class="t" d="M409,450.5C409,447 417,445.2 427,445.2C437,445.2 445,447 445,450.5C441,454 435,459 431.9,466M409,450.5C413,454 419,459 422.5,466"/>
<path class="t" d="M424.3,471.5L427.2,461.3L430.2,471.5M425.3,473.6L421.8,520.8M429.4,473.6L433.4,520.8M417.7,520.8H437.5M416.8,524.5H439M407.4,533.8H447.4" style="stroke-width:1.5"/>
<path class="s" d="M427.2,535.8C429,535.8 430,537 431,539L441.3,550.5C443.5,553.5 442,556 438.5,556H416.5C413,556 411.5,553.5 413.7,550.5L423.5,539C424.5,537 425.5,535.8 427.2,535.8Z" style="stroke-width:2.5"/>
<path class="w" d="M404.8,588.2A22.6,10.3 0 0 1 449.8,588.2V598.7H404.8Z" style="stroke-width:2.6"/>
<path class="s" d="M407,593.4A22,9.6 0 0 1 447.6,593.4" style="stroke-width:2.2"/>
<path d="M408.3,583.3v5.6" stroke="#000" stroke-width="2" fill="none"/>
<path d="M412.5,580.9v5.6" stroke="#000" stroke-width="2" fill="none"/>
<path d="M418.0,579.4v5.6" stroke="#000" stroke-width="2" fill="none"/>
<path d="M424.3,578.8v5.6" stroke="#000" stroke-width="2" fill="none"/>
<path d="M430.3,578.8v5.6" stroke="#000" stroke-width="2" fill="none"/>
<path d="M436.6,579.4v5.6" stroke="#000" stroke-width="2" fill="none"/>
<path d="M442.2,580.9v5.6" stroke="#000" stroke-width="2" fill="none"/>
<path d="M446.4,583.3v5.6" stroke="#000" stroke-width="2" fill="none"/>
<ellipse cx="427.2" cy="598.7" rx="25.4" ry="9.9" fill="#fff" stroke="#000" stroke-width="3.2"/>
<ellipse cx="427.4" cy="599.0" rx="18.6" ry="8.1" fill="#000" stroke="none"/>
<ellipse cx="427.2" cy="595.6" rx="14.6" ry="4.2" fill="#fff" stroke="none"/>
<path class="w" d="M427.3,629.5C405,629.5 385,632 373,636C364,639.5 359,643.5 356,649C351,658 348.6,668 348.7,677C349,688 349.5,697 350.6,705.7C353,718 358,728 365.7,735.8C372,744 380,751 388.3,756.6C393,760 398,762.5 401.3,763C410,768.5 445,768.5 453.3,763.0C456.6,762.5 461.6,760.0 466.3,756.6C474.6,751.0 482.6,744.0 488.9,735.8C496.6,728.0 501.6,718.0 504.0,705.7C505.1,697.0 505.6,688.0 505.9,677.0C506.0,668.0 503.6,658.0 498.6,649.0C495.6,643.5 490.6,639.5 481.6,636.0C469.6,632.0 449.6,629.5 427.3,629.5Z" style="stroke-width:2.2"/>
<path class="s" d="M389,655V742M464.6,655V742" style="stroke-dasharray:50 4 30 4;stroke-width:1.8"/>
<path class="t" d="M389,655C392,647 410,644.5 427,644.5C444,644.5 462,647 464.6,655" style="stroke-dasharray:13 5;stroke-width:1.6"/>
<path class="t" d="M389,742C392,746 395,748 400,749.5M464.6,742C462,746 459,748 455,749.5M412,741.5H443" style="stroke-width:1.5"/>
<path class="w" d="M400.5,749V759.4A27,6.2 0 0 0 455,759.4V749A27,5.5 0 0 0 400.5,749" style="stroke-width:1.8"/>
<path class="t" d="M400.5,749A27,5.5 0 0 0 455,749M404,761A24,5 0 0 1 451.5,761"/>
<path class="t" d="M388.5,650.7L370.6,652.8L368.3,656.9L372.7,659.0" style="stroke-width:1.9"/>
<path class="t" d="M388.5,650.7L370.6,652.8L368.3,656.9L372.7,659.0" transform="translate(854.8,0) scale(-1,1)" style="stroke-width:1.9"/>
<path class="t" d="M388.0,661.9L365.2,661.9L361.9,666.0L365.2,669.4" style="stroke-width:1.9"/>
<path class="t" d="M388.0,661.9L365.2,661.9L361.9,666.0L365.2,669.4" transform="translate(854.8,0) scale(-1,1)" style="stroke-width:1.9"/>
<path class="t" d="M370.6,672.3L381.8,670.2L383.9,674.5L372.7,680.6L364.4,678.5L370.6,688.9L381.0,683.1L387.2,690.5" style="stroke-width:1.9"/>
<path class="t" d="M370.6,672.3L381.8,670.2L383.9,674.5L372.7,680.6L364.4,678.5L370.6,688.9L381.0,683.1L387.2,690.5" transform="translate(854.8,0) scale(-1,1)" style="stroke-width:1.9"/>
<path class="t" d="M356.1,688.9L359.0,701.3L368.5,693.0L378.5,701.3L388.0,707.6" style="stroke-width:1.9"/>
<path class="t" d="M356.1,688.9L359.0,701.3L368.5,693.0L378.5,701.3L388.0,707.6" transform="translate(854.8,0) scale(-1,1)" style="stroke-width:1.9"/>
<path class="t" d="M378.5,701.3L372.3,707.6L387.2,712.9" style="stroke-width:1.9"/>
<path class="t" d="M378.5,701.3L372.3,707.6L387.2,712.9" transform="translate(854.8,0) scale(-1,1)" style="stroke-width:1.9"/>
<path class="t" d="M360.2,707.6L370.2,704.4" style="stroke-width:1.9"/>
<path class="t" d="M360.2,707.6L370.2,704.4" transform="translate(854.8,0) scale(-1,1)" style="stroke-width:1.9"/>
<path class="t" d="M362.3,720.4L387.2,714.2" style="stroke-width:1.9"/>
<path class="t" d="M362.3,720.4L387.2,714.2" transform="translate(854.8,0) scale(-1,1)" style="stroke-width:1.9"/>
<path class="t" d="M365.2,728.7L388.0,723.3" style="stroke-width:1.9"/>
<path class="t" d="M365.2,728.7L388.0,723.3" transform="translate(854.8,0) scale(-1,1)" style="stroke-width:1.9"/>
<path class="t" d="M372.3,738.7L380.6,734.5L383.1,742.8L391.4,738.7" style="stroke-width:1.9"/>
<path class="t" d="M372.3,738.7L380.6,734.5L383.1,742.8L391.4,738.7" transform="translate(854.8,0) scale(-1,1)" style="stroke-width:1.9"/>
<path class="t" d="M378.5,745.3L389.7,751.6" style="stroke-width:1.9"/>
<path class="t" d="M378.5,745.3L389.7,751.6" transform="translate(854.8,0) scale(-1,1)" style="stroke-width:1.9"/>
<path class="t" d="M356.1,678.5L354.8,684.7" style="stroke-width:1.9"/>
<path class="t" d="M356.1,678.5L354.8,684.7" transform="translate(854.8,0) scale(-1,1)" style="stroke-width:1.9"/>
<path class="t" d="M359.0,713.8L357.3,707.6" style="stroke-width:1.9"/>
<path class="t" d="M359.0,713.8L357.3,707.6" transform="translate(854.8,0) scale(-1,1)" style="stroke-width:1.9"/>
<circle cx="316.2" cy="677.5" r="9.7" fill="#fff" stroke="#000" stroke-width="1.9"/><text class="l" stroke="#000" stroke-width="0.45" x="316.2" y="683.7" font-size="19.0">8</text>
<path d="M332.4,658.8L332.4,693.4" fill="none" stroke="#000" stroke-width="2.0"/><path class="k" d="M332.4,702.4L329.2,691.4L335.6,691.4Z"/>
<circle cx="359.4" cy="806.8" r="9.7" fill="#fff" stroke="#000" stroke-width="1.9"/><text class="l" stroke="#000" stroke-width="0.45" x="359.4" y="813.0" font-size="19.0">7</text>
<path d="M381.6,826.9L381.6,791.3" fill="none" stroke="#000" stroke-width="2.0"/><path class="k" d="M381.6,782.3L384.8,793.3L378.4,793.3Z"/>
<path class="s" d="M394.5,805C388,795 404,782.3 428,782.3C447,782.3 462,787.5 465.2,796"/>
<path class="k" d="M463.8,793.8L469.2,800L457.2,809.6Z"/>
<path class="w" d="M404.8,803.1A22.6,10.3 0 0 1 449.8,803.1V813.9H404.8Z" style="stroke-width:2.6"/>
<path class="s" d="M407,808.3A22,9.6 0 0 1 447.6,808.3" style="stroke-width:2.2"/>
<path d="M408.3,798.2v5.6" stroke="#000" stroke-width="2" fill="none"/>
<path d="M412.5,795.8v5.6" stroke="#000" stroke-width="2" fill="none"/>
<path d="M418.0,794.3v5.6" stroke="#000" stroke-width="2" fill="none"/>
<path d="M424.3,793.7v5.6" stroke="#000" stroke-width="2" fill="none"/>
<path d="M430.3,793.7v5.6" stroke="#000" stroke-width="2" fill="none"/>
<path d="M436.6,794.3v5.6" stroke="#000" stroke-width="2" fill="none"/>
<path d="M442.2,795.8v5.6" stroke="#000" stroke-width="2" fill="none"/>
<path d="M446.4,798.2v5.6" stroke="#000" stroke-width="2" fill="none"/>
<ellipse cx="427.2" cy="813.9" rx="25.4" ry="9.9" fill="#fff" stroke="#000" stroke-width="3.2"/>
<ellipse cx="427.4" cy="814.2" rx="18.6" ry="8.1" fill="#000" stroke="none"/>
<ellipse cx="427.2" cy="810.8" rx="14.6" ry="4.2" fill="#fff" stroke="none"/>
<path class="w" d="M420,849.3V882H435.2V849.3L437.4,846.5V841Q437.4,838.4 434.5,838.4H420.8Q417.9,838.4 417.9,841V846.5Z" style="stroke-width:1.8"/>
<path class="t" d="M420,849.3H435.2"/>
<ellipse cx="427.3" cy="886" rx="19.5" ry="3.8" class="w" style="stroke-width:1.6"/>
<path class="k" d="M402.2,890Q402.2,887.3 405,887.3H450Q452.6,887.3 452.6,890V906H402.2Z"/>
<path class="w" d="M365.8,914.6C376,909.5 390,906.3 402.2,904.8H452.6C465,906.3 479,909.5 489.5,914.6C480,926 460,936.5 438.5,939H416.8C395,936.5 375,926 365.8,914.6Z" />
<path class="k" d="M402.2,899H452.6V905.6H402.2Z"/>
<path class="w" d="M416.8,937.5V951A10.8,2.6 0 0 0 438.5,951V937.5Z" style="stroke-width:1.8"/>
<ellipse cx="427.6" cy="951" rx="7.5" ry="1.8" class="t"/>
<path d="M427.3,438V580" class="t" style="stroke-width:1.9;stroke-dasharray:50 4 11 4 11 4"/>
<path d="M427.3,588V640" class="t" style="stroke-width:1.9;stroke-dasharray:14 4 11 4"/>
<path d="M427.3,640V800" class="t" style="stroke-width:1.9;stroke-dasharray:44 4 11 4"/>
<path d="M427.3,804V955" class="t" style="stroke-width:2;stroke-dasharray:11 4"/>
<!-- 70_lamps.svg -->
<g transform="translate(570.0,1199.5) rotate(5.0) scale(1.000)">
<path class="w" d="M-54,43.7C-62,30 -66,15 -66,0C-66,-32 -42,-61.6 0,-61.6C42,-61.6 66,-32 66,0C66,15 62,30 54,43.7A54,12.0 0 0 1 -54,43.7Z" style="stroke-width:2.1"/>
<path class="s" d="M-54,43.7A54,12.0 0 0 1 54,43.7" style="stroke-width:2.1"/>
<path class="w" d="M-8.8,-76.4H8.4V-62.4Q0,-59.6 -8.8,-62.4Z" style="stroke-width:2.1"/>
</g>
<g transform="translate(696.5,1199.5) rotate(-5.0) scale(1.000)">
<path class="w" d="M-54,43.7C-62,30 -66,15 -66,0C-66,-32 -42,-61.6 0,-61.6C42,-61.6 66,-32 66,0C66,15 62,30 54,43.7A54,12.0 0 0 1 -54,43.7Z" style="stroke-width:2.1"/>
<path class="s" d="M-54,43.7A54,12.0 0 0 1 54,43.7" style="stroke-width:2.1"/>
<path class="w" d="M-8.8,-76.4H8.4V-62.4Q0,-59.6 -8.8,-62.4Z" style="stroke-width:2.1"/>
</g>
<path class="w" d="M770,1137C778,1135.6 800,1138 814,1143.5C824,1150 831,1158 835,1164.7C842,1175 846,1182 847.5,1187.4C849.5,1194 850,1199 849.8,1203.2C849.6,1210 848.5,1215 847.5,1219L844.1,1228.6C830,1234 815,1239 801.1,1244C793,1247 786,1249.5 778.5,1251.9C770,1254 763,1255 755.8,1255.3L740,1255.7L700,1200Z" style="stroke-width:2.1"/>
<path class="s" d="M796.6,1150.7C803,1148.5 809,1146.3 814.7,1143.9" style="stroke-width:2.4"/>
<g transform="translate(763.4,1130) rotate(-15)"><path class="w" d="M-9.8,-7.6H9.2V6.6Q0,9.6 -9.8,6.6Z" style="stroke-width:2.1"/></g>
<g transform="translate(515.3,1198.5) rotate(13.2) scale(1.035)">
<path class="w" d="M-54,43.7C-62,30 -66,15 -66,0C-66,-32 -42,-61.6 0,-61.6C42,-61.6 66,-32 66,0C66,15 62,30 54,43.7A54,9.7 0 0 1 -54,43.7Z" style="stroke-width:2.1"/>
<path class="s" d="M-54,43.7A54,9.7 0 0 1 54,43.7" style="stroke-width:2.1"/>
<path class="s" d="M-48.5,-44.5C-30,-59 30,-59 48.5,-44.5" style="stroke-width:3"/>
<path class="w" d="M-8.8,-76.4H8.4V-62.4Q0,-59.6 -8.8,-62.4Z" style="stroke-width:2.1"/>
</g>
<g transform="translate(750.6,1198.0) rotate(-12.8) scale(1.035)">
<path class="w" d="M-54,43.7C-62,30 -66,15 -66,0C-66,-32 -42,-61.6 0,-61.6C42,-61.6 66,-32 66,0C66,15 62,30 54,43.7A54,9.7 0 0 1 -54,43.7Z" style="stroke-width:2.1"/>
<path class="s" d="M-54,43.7A54,9.7 0 0 1 54,43.7" style="stroke-width:2.1"/>
<path class="s" d="M-48.5,-44.5C-30,-59 30,-59 48.5,-44.5" style="stroke-width:3"/>
<path class="w" d="M-8.8,-76.4H8.4V-62.4Q0,-59.6 -8.8,-62.4Z" style="stroke-width:2.1"/>
</g>
<g transform="translate(634.0,1198.0) rotate(0.0) scale(1.000)">
<path class="w" d="M-54,43.7C-62,30 -66,15 -66,0C-66,-32 -42,-61.6 0,-61.6C42,-61.6 66,-32 66,0C66,15 62,30 54,43.7A54,14.7 0 0 1 -54,43.7Z" style="stroke-width:2.1"/>
<path class="s" d="M-54,43.7A54,14.7 0 0 1 54,43.7" style="stroke-width:2.1"/>
<path class="s" d="M-48.5,-44.5C-30,-59 30,-59 48.5,-44.5" style="stroke-width:3"/>
<path class="w" d="M-8.8,-76.4H8.4V-62.4Q0,-59.6 -8.8,-62.4Z" style="stroke-width:2.1"/>
</g>
<!-- 90_text.svg -->
<text x="651" y="1443" font-size="30.5" textLength="119" lengthAdjust="spacingAndGlyphs" fill="#000">BLA94327</text>
<!-- 95_wm.svg -->
<text x="291" y="764.3" font-size="51" style="font-family:'Liberation Sans',sans-serif;font-weight:bold;mix-blend-mode:multiply" fill="#e8e1df" textLength="466" lengthAdjust="spacingAndGlyphs">www.svetodom.ru</text>
</svg>
</body></html>
